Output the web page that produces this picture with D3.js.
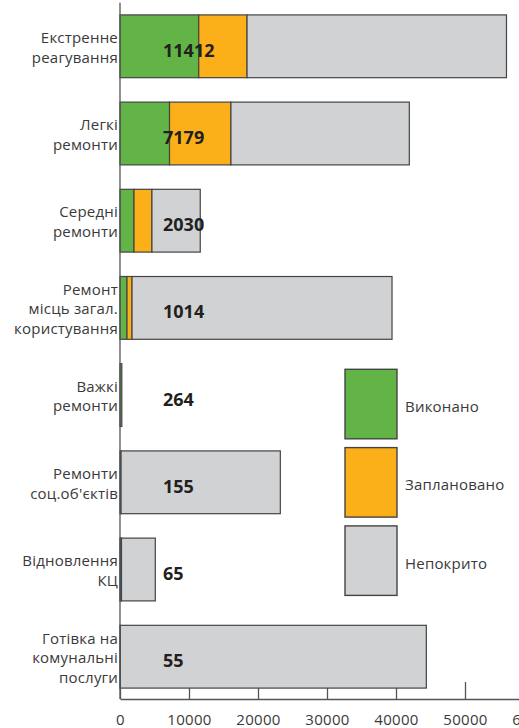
<!DOCTYPE html>
<html>
<head>
<meta charset="utf-8">
<script src="https://cdn.jsdelivr.net/npm/d3@7"></script>
<style>
  body { margin: 0; background: #fff; }
  svg { display: block; font-family: "Open Sans", sans-serif; }
</style>
</head>
<body>
<div id="chart"></div>
<script>
// Categories (line-broken as in the picture) and the three stacked series
const categories = [
  ["Екстренне", "реагування"],
  ["Легкі", "ремонти"],
  ["Середні", "ремонти"],
  ["Ремонт", "місць загал.", "користування"],
  ["Важкі", "ремонти"],
  ["Ремонти", "соц.об'єктів"],
  ["Відновлення", "КЦ"],
  ["Готівка на", "комунальні", "послуги"]
];
const done      = [11412, 7179, 2030, 1014, 264, 155, 65, 55];
const planned   = [7000, 8900, 2600, 730, 0, 0, 150, 0];
const uncovered = [37600, 25850, 7000, 37680, 0, 23080, 4900, 44340];

const seriesNames = ["Виконано", "Заплановано", "Непокрито"];
const colors = ["#62b446", "#fbb01a", "#d1d2d4"];
const xTicks = [0, 10000, 20000, 30000, 40000, 50000, 60000];

const width = 519, height = 728;
const C = {
  left: 120,
  right: 534,
  top: 2.7,
  bottom: 700.3,
  axisY: 699,
  stroke: '#444',
  text: '#3a3a3a',
  labelSize: 15,
  lineHeight: 19.5
};

const svg = d3.select('#chart').append('svg')
  .attr('width', width)
  .attr('height', height);

const x = d3.scaleLinear().domain([0, 60000]).range([C.left, C.right]);
const y = d3.scaleBand()
  .domain(d3.range(categories.length))
  .range([C.top, C.bottom])
  .paddingInner(0.28)
  .paddingOuter(0.14);

// rows for the stack
const rows = categories.map((c, i) => ({
  i: i,
  [seriesNames[0]]: done[i],
  [seriesNames[1]]: planned[i],
  [seriesNames[2]]: uncovered[i]
}));
const stacked = d3.stack().keys(seriesNames)(rows);

// x axis, ticks pointing up (bars are drawn over them)
const xAxis = svg.append('g')
  .attr('transform', `translate(0,${C.axisY})`)
  .call(d3.axisBottom(x).tickValues(xTicks).tickFormat(d3.format('d'))
    .tickSizeInner(-17).tickSizeOuter(0).tickPadding(15));
xAxis.selectAll('path, line').attr('stroke', '#555').attr('stroke-width', 1.3);
xAxis.selectAll('text')
  .attr('fill', C.text)
  .style('font-size', '15px')
  .style('letter-spacing', '0.3px')
  .style('font-family', '"Open Sans", sans-serif');

// bars
svg.append('g').selectAll('g')
  .data(stacked)
  .join('g')
  .attr('fill', (d, k) => colors[k])
  .selectAll('rect')
  .data(d => d)
  .join('rect')
  .attr('x', d => x(d[0]))
  .attr('y', d => y(d.data.i))
  .attr('width', d => x(d[1]) - x(d[0]))
  .attr('height', y.bandwidth())
  .attr('stroke', C.stroke)
  .attr('stroke-width', 1.2);

// vertical axis line
svg.append('line')
  .attr('x1', C.left).attr('x2', C.left)
  .attr('y1', C.top).attr('y2', C.axisY)
  .attr('stroke', '#555').attr('stroke-width', 1.3);

// category labels
svg.append('g').selectAll('text')
  .data(categories)
  .join('text')
  .attr('text-anchor', 'end')
  .attr('fill', C.text)
  .style('font-size', C.labelSize + 'px')
  .style('letter-spacing', '0.2px')
  .each(function(lines, i) {
    const cy = y(i) + y.bandwidth() / 2;
    const y0 = cy + 6.5 - (lines.length - 1) * C.lineHeight / 2;
    d3.select(this).selectAll('tspan')
      .data(lines)
      .join('tspan')
      .attr('x', C.left - 2)
      .attr('y', (l, j) => y0 + j * C.lineHeight)
      .text(l => l);
  });

// value labels (completed)
svg.append('g').selectAll('text')
  .data(done)
  .join('text')
  .attr('x', 163)
  .attr('y', (d, i) => y(i) + y.bandwidth() / 2 + 10.5)
  .attr('fill', '#231f20')
  .style('font-size', '18px')
  .style('font-weight', 700)
  .text(d => d);

// legend
const legend = svg.append('g').selectAll('g')
  .data(seriesNames)
  .join('g')
  .attr('transform', (d, k) => `translate(345,${369.3 + k * 78.3})`);
legend.append('rect')
  .attr('width', 52).attr('height', 69.5)
  .attr('fill', (d, k) => colors[k])
  .attr('stroke', C.stroke).attr('stroke-width', 1.4);
legend.append('text')
  .attr('x', 60).attr('y', 69.5 / 2 + 8)
  .attr('fill', C.text)
  .style('font-size', C.labelSize + 'px')
  .style('letter-spacing', '0.2px')
  .text(d => d);
</script>
</body>
</html>
